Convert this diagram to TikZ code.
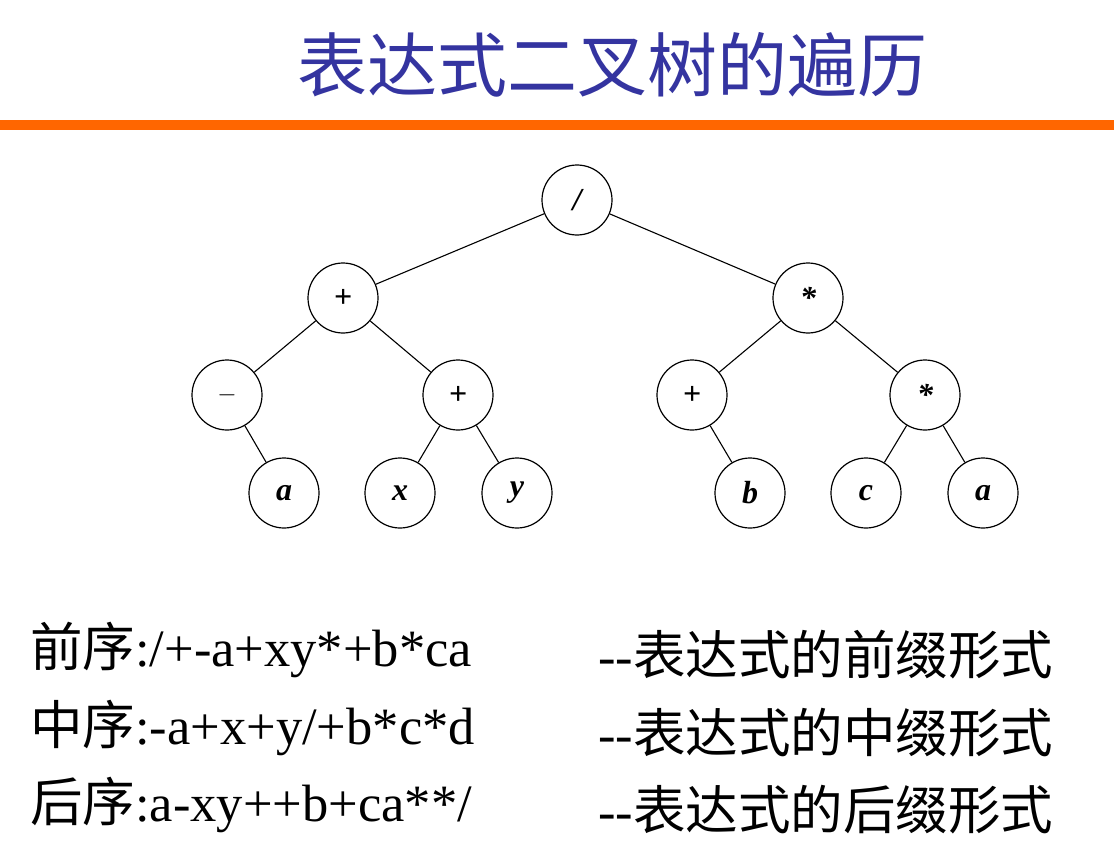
\documentclass[tikz,border=0pt]{standalone}
\usepackage{fontspec}
\setmainfont{Liberation Serif}
\newfontfamily\cjk{Noto Sans CJK SC}
\begin{document}
\begin{tikzpicture}[x=1pt,y=-1pt,
  tn/.style={circle,draw,line width=1.2pt,minimum size=70pt,inner sep=0pt,font=\fontsize{32}{34}\selectfont\itshape\bfseries},
  ed/.style={line width=1.1pt},
  ln/.style={anchor=west,inner sep=0pt,font=\fontsize{52.5}{56}\selectfont}]
\useasboundingbox (0,0) rectangle (1114,864);
\definecolor{tblue}{RGB}{52,52,160}
\definecolor{torange}{RGB}{255,102,0}
\node[font=\cjk\fontsize{70}{76}\selectfont,text=tblue] (title) at (612,65) {表达式二叉树的遍历};
\fill[torange] (0,120) rectangle (1114,130);
\node[tn] (r) at (577,200) {/};
\node[tn] (p1) at (343,298) {+};
\node[tn] (m1) at (808,298) {*};
\node[tn] (s) at (227,395) {$-$};
\node[tn] (p2) at (458,395) {+};
\node[tn] (p3) at (692,395) {+};
\node[tn] (m2) at (925,395) {*};
\node[tn] (a1) at (284,493) {a};
\node[tn] (x) at (400,493) {x};
\node[tn] (y) at (517,493) {y};
\node[tn] (b) at (750,493) {b};
\node[tn] (c) at (866,493) {c};
\node[tn] (a2) at (983,493) {a};
\foreach \u/\v in {r/p1,r/m1,p1/s,p1/p2,m1/p3,m1/m2,s/a1,p2/x,p2/y,p3/b,m2/c,m2/a2}
  \draw[ed] (\u) -- (\v);
\node[ln] (l1) at (30,650) {{\cjk 前序}:/+-a+xy*+b*ca};
\node[ln] (l2) at (30,728) {{\cjk 中序}:-a+x+y/+b*c*d};
\node[ln] (l3) at (30,805) {{\cjk 后序}:a-xy++b+ca**/};
\node[ln] (r1) at (598,655) {{-}{-}{\cjk 表达式的前缀形式}};
\node[ln] (r2) at (598,733) {{-}{-}{\cjk 表达式的中缀形式}};
\node[ln] (r3) at (598,810) {{-}{-}{\cjk 表达式的后缀形式}};
\end{tikzpicture}
\end{document}
